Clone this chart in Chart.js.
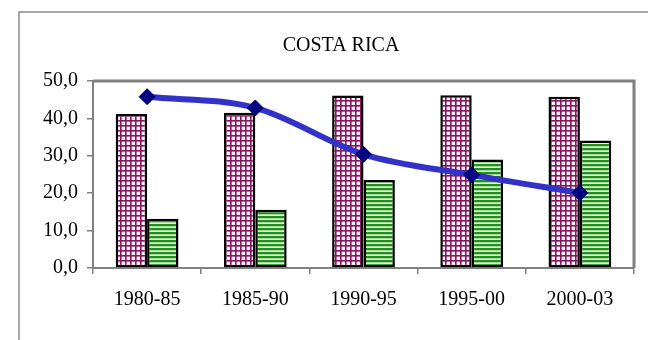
<!DOCTYPE html>
<html>
<head>
<meta charset="utf-8">
<script src="https://cdn.jsdelivr.net/npm/chart.js@4"></script>
<style>
  html, body { margin: 0; padding: 0; background: #fff; }
  #wrap { width: 648px; height: 340px; }
</style>
</head>
<body>
<div id="wrap"><canvas id="myChart" width="648" height="340"></canvas></div>
<script>
// data
var periods = ['1980-85', '1985-90', '1990-95', '1995-00', '2000-03'];
var pinkBars = [41.2, 41.5, 46.1, 46.2, 45.8];
var greenBars = [13.2, 15.6, 23.5, 29.0, 34.1];
var blueLine = [45.8, 42.8, 30.4, 24.9, 20.1];
var yTicks = [0, 10, 20, 30, 40, 50];
var chartTitle = 'COSTA RICA';

var serif = "'Liberation Serif', 'Times New Roman', serif";

// pink bars: small purple grid
function gridPattern() {
    var c = document.createElement('canvas');
    c.width = 5; c.height = 5;
    var g = c.getContext('2d');
    g.fillStyle = '#fdeefa';
    g.fillRect(0, 0, 5, 5);
    g.fillStyle = '#84185f';
    g.fillRect(0, 0, 5, 1.6);
    g.fillRect(0, 0, 1.6, 5);
    return g.createPattern(c, 'repeat');
}

// green bars: horizontal stripes
function stripePattern() {
    var c = document.createElement('canvas');
    c.width = 4; c.height = 4;
    var g = c.getContext('2d');
    g.fillStyle = '#e6f7cf';
    g.fillRect(0, 0, 4, 4);
    g.fillStyle = '#1f8f1f';
    g.fillRect(0, 0, 4, 2.3);
    return g.createPattern(c, 'repeat');
}

var frame = {
    id: 'frame',
    beforeDraw: function(chart) {
        var ctx = chart.ctx;
        ctx.save();
        ctx.fillStyle = '#fff';
        ctx.fillRect(0, 0, chart.width, chart.height);
        // outer box, runs off the right and bottom edge
        ctx.strokeStyle = '#8c8c8c';
        ctx.lineWidth = 1.5;
        ctx.strokeRect(19, 12, 700, 400);
        // title
        ctx.fillStyle = '#000';
        ctx.font = '20px ' + serif;
        ctx.textAlign = 'center';
        ctx.textBaseline = 'middle';
        ctx.fillText(chartTitle, 341, 46);
        ctx.restore();
    },
    beforeDatasetsDraw: function(chart) {
        var a = chart.chartArea;
        var ctx = chart.ctx;
        ctx.save();
        ctx.strokeStyle = '#808080';
        ctx.lineWidth = 3;
        ctx.beginPath();
        ctx.moveTo(a.left, a.top);
        ctx.lineTo(a.right, a.top);
        ctx.lineTo(a.right, a.bottom);
        ctx.stroke();
        ctx.restore();
    }
};

var ctx = document.getElementById('myChart').getContext('2d');
var myChart = new Chart(ctx, {
    type: 'bar',
    data: {
        labels: periods,
        datasets: [{
            type: 'line',
            data: blueLine,
            borderColor: '#3232c8',
            borderWidth: 6,
            cubicInterpolationMode: 'monotone',
            pointStyle: 'rectRot',
            pointRadius: 8,
            pointBackgroundColor: '#000080',
            pointBorderColor: '#000080',
            pointBorderWidth: 1,
            order: 0
        }, {
            data: pinkBars,
            backgroundColor: gridPattern(),
            borderColor: '#000',
            borderWidth: 2.5,
            borderSkipped: false,
            order: 1
        }, {
            data: greenBars,
            backgroundColor: stripePattern(),
            borderColor: '#000',
            borderWidth: 2.5,
            borderSkipped: false,
            order: 1
        }]
    },
    options: {
        responsive: false,
        animation: false,
        events: [],
        layout: { padding: { left: 0, right: 14, top: 81, bottom: 28 } },
        datasets: { bar: { categoryPercentage: 0.58, barPercentage: 1.0 } },
        plugins: {
            legend: { display: false },
            title: { display: false },
            tooltip: { enabled: false }
        },
        scales: {
            x: {
                grid: { offset: true, drawOnChartArea: false, tickLength: 6, color: '#808080', lineWidth: 1.5 },
                border: { color: '#808080', width: 2 },
                ticks: { color: '#000', padding: 14, font: { family: serif, size: 20 } },
                afterFit: function(s) { s.height = 44; }
            },
            y: {
                min: 0,
                max: 50,
                afterBuildTicks: function(s) {
                    s.ticks = yTicks.map(function(v) { return { value: v }; });
                },
                grid: { drawOnChartArea: false, tickLength: 6, color: '#808080', lineWidth: 1.5 },
                border: { color: '#808080', width: 2 },
                ticks: {
                    color: '#000',
                    padding: 9,
                    font: { family: serif, size: 20 },
                    callback: function(v) { return v.toFixed(1).replace('.', ','); }
                },
                afterFit: function(s) { s.width = 93; }
            }
        }
    },
    plugins: [frame]
});
</script>
</body>
</html>
